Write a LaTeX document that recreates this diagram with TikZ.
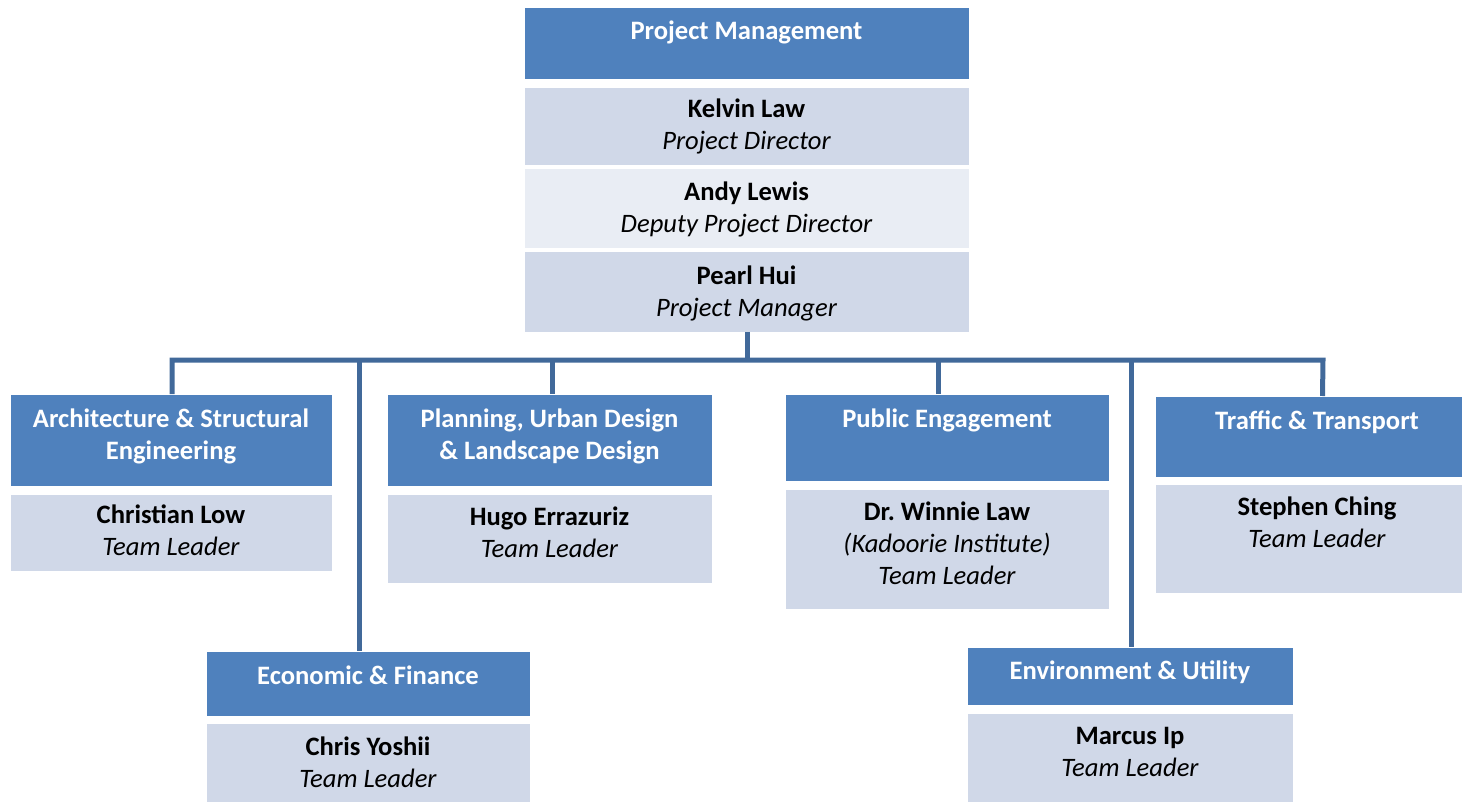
\documentclass[tikz,border=0pt]{standalone}
\usepackage{fontspec}
\setmainfont{Carlito}
\definecolor{hdrblue}{HTML}{4F81BD}
\definecolor{litebox}{HTML}{D0D8E8}
\definecolor{palebox}{HTML}{E9EDF4}
\definecolor{connblue}{HTML}{41699A}
\frenchspacing
\begin{document}
\begin{tikzpicture}[x=1pt,y=-1pt,
  boxbase/.style={rectangle, inner sep=0pt, outer sep=0pt, anchor=north west, draw=white, line width=0.8pt},
  hdrbox/.style={boxbase, fill=hdrblue},
  litebx/.style={boxbase, fill=litebox},
  palebx/.style={boxbase, fill=palebox},
  hdrtxt/.style={anchor=base, inner sep=0pt, text=white, font=\fontsize{26.6}{32}\selectfont\bfseries},
  nametxt/.style={anchor=base, inner sep=0pt, text=black, font=\fontsize{26.6}{32}\selectfont\bfseries},
  roletxt/.style={anchor=base, inner sep=0pt, text=black, font=\fontsize{26.6}{32}\selectfont\itshape},
  conn/.style={draw=connblue, line width=5pt}
]
\useasboundingbox (0,0) rectangle (1462,802);

% top column
\node[hdrbox, minimum width=445pt, minimum height=72pt] (pm) at (524,7) {};
\node[litebx, minimum width=445pt, minimum height=78pt] (kl) at (524,87.5) {};
\node[palebx, minimum width=445pt, minimum height=80pt] (al) at (524,168) {};
\node[litebx, minimum width=445pt, minimum height=81pt] (ph) at (524,251) {};
\node[hdrtxt] (pmT) at (746.5,40) {Project Management};
\node[nametxt] (klN) at (746.5,118) {Kelvin Law};
\node[roletxt] (klR) at (746.5,150) {Project Director};
\node[nametxt] (alN) at (746.5,201) {Andy Lewis};
\node[roletxt] (alR) at (746.5,233) {Deputy Project Director};
\node[nametxt] (phN) at (746.5,285) {Pearl Hui};
\node[roletxt] (phR) at (746.5,317) {Project Manager};

% architecture
\node[hdrbox, minimum width=322pt, minimum height=92pt] (arch) at (10,394) {};
\node[litebx, minimum width=322pt, minimum height=77pt] (archP) at (10,494) {};
\node[hdrtxt] (archT1) at (171,427) {Architecture \& Structural};
\node[hdrtxt] (archT2) at (171,459.5) {Engineering};
\node[nametxt] (archN) at (171,523) {Christian Low};
\node[roletxt] (archR) at (171,555.5) {Team Leader};

% planning
\node[hdrbox, minimum width=325pt, minimum height=92pt] (plan) at (387,394) {};
\node[litebx, minimum width=325pt, minimum height=89pt] (planP) at (387,494) {};
\node[hdrtxt] (planT1) at (549.5,427) {Planning, Urban Design};
\node[hdrtxt] (planT2) at (549.5,459.5) {\& Landscape Design};
\node[nametxt] (planN) at (549.5,525) {Hugo Errazuriz};
\node[roletxt] (planR) at (549.5,557) {Team Leader};

% public engagement
\node[hdrbox, minimum width=324pt, minimum height=87pt] (pub) at (785,394) {};
\node[litebx, minimum width=324pt, minimum height=120pt] (pubP) at (785,489) {};
\node[hdrtxt] (pubT) at (947,427) {Public Engagement};
\node[nametxt] (pubN) at (947,520) {Dr. Winnie Law};
\node[roletxt] (pubR1) at (947,552) {(Kadoorie Institute)};
\node[roletxt] (pubR2) at (947,584) {Team Leader};

% traffic
\node[hdrbox, minimum width=307pt, minimum height=81pt] (traf) at (1155,396) {};
\node[litebx, minimum width=307pt, minimum height=109pt] (trafP) at (1155,484) {};
\node[hdrtxt] (trafT) at (1317,429) {Traffic \& Transport};
\node[nametxt] (trafN) at (1317,515) {Stephen Ching};
\node[roletxt] (trafR) at (1317,547) {Team Leader};

% economic
\node[hdrbox, minimum width=324pt, minimum height=65pt] (econ) at (206,651) {};
\node[litebx, minimum width=324pt, minimum height=79pt] (econP) at (206,723) {};
\node[hdrtxt] (econT) at (368,684) {Economic \& Finance};
\node[nametxt] (econN) at (368,755) {Chris Yoshii};
\node[roletxt] (econR) at (368,787) {Team Leader};

% environment
\node[hdrbox, minimum width=326pt, minimum height=58pt] (env) at (967,647) {};
\node[litebx, minimum width=326pt, minimum height=89pt] (envP) at (967,713) {};
\node[hdrtxt] (envT) at (1130,679) {Environment \& Utility};
\node[nametxt] (envN) at (1130,744) {Marcus Ip};
\node[roletxt] (envR) at (1130,776) {Team Leader};

% connectors
\coordinate (busL) at (172,360);
\coordinate (busR) at (1323,360);
\coordinate (dTop) at (747,360);
\coordinate (dArch) at (172,360);
\coordinate (dEcon) at (359,360);
\coordinate (dPlan) at (552,360);
\coordinate (dPub) at (938,360);
\coordinate (dEnv) at (1131,360);
\coordinate (dTraf) at (1322.5,360);
\draw[conn] (dTop |- ph.south) -- (dTop);
\draw[conn, line join=miter] (dArch |- arch.north) -- (busL) -- (busR) -- (dTraf |- traf.north);
\draw[conn] (dEcon) -- (dEcon |- econ.north);
\draw[conn] (dPlan) -- (dPlan |- plan.north);
\draw[conn] (dPub) -- (dPub |- pub.north);
\draw[conn] (dEnv) -- (dEnv |- env.north);
\end{tikzpicture}
\end{document}
